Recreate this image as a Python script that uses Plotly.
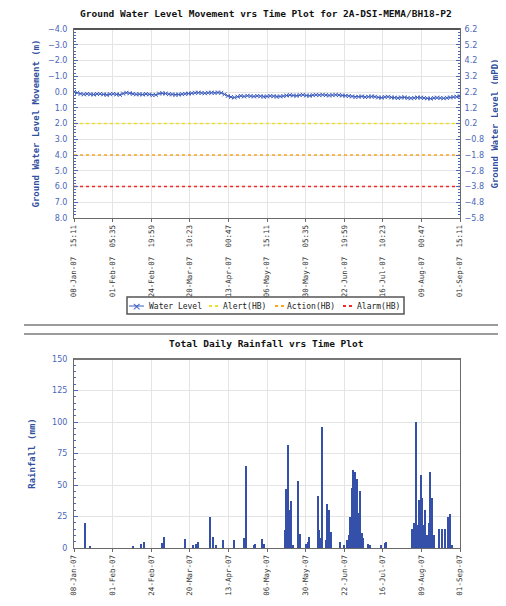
import pandas as pd
import plotly.graph_objects as go

# ---------------- data ----------------
level_start = "2007-01-08 15:11"
water_level = [
    0.00, 0.05, 0.12, 0.15, 0.12, 0.14, 0.16, 0.13, 0.12, 0.15, 0.18, 0.14,
    0.12, 0.15, 0.18, 0.10, 0.05, 0.08, 0.12, 0.15, 0.14, 0.16, 0.13, 0.15, 0.20, 0.18,
    0.10, 0.08, 0.10, 0.14, 0.15, 0.18, 0.16, 0.14, 0.12, 0.10, 0.08, 0.05, 0.04, 0.06, 0.08, 0.05,
    0.04, 0.06, 0.03, 0.05, 0.15, 0.25, 0.32, 0.35, 0.30, 0.25, 0.28, 0.24, 0.26, 0.28, 0.25,
    0.27, 0.30, 0.28, 0.25, 0.27, 0.30, 0.28, 0.26, 0.22, 0.20, 0.22, 0.24, 0.20, 0.18, 0.22,
    0.24, 0.20, 0.18, 0.20, 0.18, 0.20, 0.22, 0.20, 0.18, 0.20, 0.22, 0.24, 0.26, 0.28, 0.32,
    0.30, 0.28, 0.32, 0.30, 0.28, 0.30, 0.34, 0.36, 0.32, 0.30, 0.34, 0.36, 0.38, 0.35, 0.34, 0.38,
    0.40, 0.38, 0.35, 0.36, 0.38, 0.40, 0.42, 0.38, 0.36, 0.38, 0.40, 0.37, 0.35, 0.32, 0.30,
    0.28,
]
alert_level = 2.0
action_level = 4.0
alarm_level = 6.0
mpd_offset = 2.2

rain_dates = [
    "2007-01-15", "2007-01-18", "2007-02-13", "2007-02-18", "2007-02-20",
    "2007-03-03", "2007-03-04", "2007-03-17", "2007-03-22", "2007-03-24", "2007-03-25",
    "2007-04-01", "2007-04-03", "2007-04-05", "2007-04-09", "2007-04-16", "2007-04-22",
    "2007-04-23", "2007-04-28", "2007-04-29", "2007-05-03", "2007-05-04",
    "2007-05-17", "2007-05-18", "2007-05-19", "2007-05-20", "2007-05-21", "2007-05-22",
    "2007-05-25", "2007-05-26", "2007-05-30", "2007-05-31", "2007-06-01",
    "2007-06-06", "2007-06-07", "2007-06-08", "2007-06-09", "2007-06-11", "2007-06-12",
    "2007-06-13", "2007-06-14", "2007-06-20", "2007-06-22", "2007-06-24",
    "2007-06-25", "2007-06-26", "2007-06-27", "2007-06-28", "2007-06-29", "2007-06-30",
    "2007-07-01", "2007-07-02", "2007-07-03", "2007-07-04", "2007-07-07", "2007-07-08",
    "2007-07-15", "2007-07-17", "2007-07-18",
    "2007-08-03", "2007-08-04", "2007-08-05", "2007-08-06", "2007-08-07", "2007-08-08",
    "2007-08-09", "2007-08-10", "2007-08-11", "2007-08-12", "2007-08-13", "2007-08-14",
    "2007-08-15", "2007-08-16", "2007-08-19", "2007-08-21", "2007-08-23",
    "2007-08-25", "2007-08-26", "2007-08-27",
]
rain_mm = [
    20, 1, 1, 3, 5,
    4, 9, 7, 2, 3, 5,
    25, 9, 2, 6, 6, 8,
    65, 2, 3, 7, 3,
    14, 47, 82, 30, 37, 2,
    53, 11, 3, 5, 9,
    41, 14, 8, 96, 6, 35,
    30, 13, 5, 2, 6,
    10, 25, 48, 62, 60, 55,
    28, 45, 12, 8, 3, 2,
    2, 4, 5,
    15, 20, 100, 18, 38, 58,
    40, 18, 30, 10, 20, 60,
    40, 10, 15, 15, 15,
    25, 27, 2,
]

x_start = "2007-01-08 15:11"
x_end = "2007-09-01 15:11"
tick_labels_top = ["08-Jan-07  15:11", "01-Feb-07  05:35", "24-Feb-07  19:59",
                   "20-Mar-07  10:23", "13-Apr-07  00:47", "06-May-07  15:11",
                   "30-May-07  05:35", "22-Jun-07  19:59", "16-Jul-07  10:23",
                   "09-Aug-07  00:47", "01-Sep-07  15:11"]
tick_labels_bottom = [t.split("  ")[0] for t in tick_labels_top]
legend_names = ["Water Level", "Alert(HB)", "Action(HB)", "Alarm(HB)"]

# ---------------- build ----------------
level_dates = pd.date_range(level_start, periods=len(water_level), freq="2D")
tickvals = pd.date_range(x_start, x_end, periods=len(tick_labels_top))
tickvals_b = pd.date_range("2007-01-08", "2007-09-01", periods=len(tick_labels_bottom))

W, H = 506, 606
OFF = 8  # page body margin of the html page
def py(pix):
    return 1 - (pix - OFF) / H
def px(pix):
    return (pix - OFF) / W

x0p, x1p = px(74), px(460)
mono = "DejaVu Sans Mono"
sans = "DejaVu Sans"
blue_tick = "#4a66b8"
blue_title = "#2f4f9f"
grid = "#e4e4e4"
line_c = "#6a6a6a"
wl_col = "#3f5fbf"
ref_cols = ["#f0e020", "#f5a623", "#ee2a2a"]

fig = go.Figure()

fig.add_trace(go.Scatter(
    x=level_dates, y=water_level, mode="lines+markers", name=legend_names[0],
    line=dict(color=wl_col, width=1),
    marker=dict(symbol="x-thin", size=4, line=dict(color=wl_col, width=1)),
    xaxis="x", yaxis="y", showlegend=False))
for name, lvl, col in zip(legend_names[1:], [alert_level, action_level, alarm_level], ref_cols):
    fig.add_trace(go.Scatter(
        x=[x_start, x_end], y=[lvl, lvl], mode="lines", name=name,
        line=dict(color=col, width=1.3, dash="dot"), xaxis="x", yaxis="y", showlegend=False))

fig.add_trace(go.Scatter(
    x=level_dates, y=[mpd_offset - v for v in water_level], mode="lines",
    line=dict(width=0), opacity=0, showlegend=False, hoverinfo="skip",
    xaxis="x", yaxis="y3"))

fig.add_trace(go.Bar(
    x=pd.to_datetime(rain_dates), y=rain_mm, marker=dict(color="#3450a8", line=dict(width=0)),
    width=86400000 * 0.85, showlegend=False, xaxis="x2", yaxis="y2"))

common_x = dict(type="date", showgrid=True, gridcolor=grid, showline=True, linecolor=line_c,
                mirror=True, ticks="outside", ticklen=3, tickcolor=line_c, tickangle=-90,
                tickfont=dict(family=mono, size=7.5, color="#333333"), zeroline=False,
                automargin=False)

fig.update_layout(
    width=W, height=H, autosize=False,
    margin=dict(l=0, r=0, t=0, b=0, pad=0),
    paper_bgcolor="white", plot_bgcolor="white",
    showlegend=False,
    xaxis=dict(domain=[x0p, x1p], range=[x_start, x_end], anchor="y",
               tickvals=tickvals, ticktext=tick_labels_top, **common_x),
    yaxis=dict(domain=[py(218), py(29)], range=[8, -4], anchor="x", automargin=False,
               dtick=1, tick0=0, tickformat=".1f", showgrid=True, gridcolor=grid,
               showline=True, linecolor=line_c, zeroline=False,
               ticks="inside", ticklen=4, tickcolor=blue_tick, ticklabelstandoff=4,
               minor=dict(ticks="inside", ticklen=2, dtick=0.2, tickcolor=blue_tick, showgrid=False),
               tickfont=dict(family=sans, size=8, color=blue_tick),
               title=dict(text="Ground Water Level Movement (m)", standoff=6,
                          font=dict(family=mono, size=9, color=blue_title, weight="bold"))),
    yaxis3=dict(overlaying="y", side="right", anchor="x", range=[-5.8, 6.2], automargin=False,
                dtick=1, tick0=0.2, tickformat=".1f", showgrid=False, zeroline=False,
                showline=True, linecolor=line_c,
                ticks="inside", ticklen=4, tickcolor=blue_tick, ticklabelstandoff=2,
                minor=dict(ticks="inside", ticklen=2, dtick=0.2, tickcolor=blue_tick),
                tickfont=dict(family=sans, size=8, color=blue_tick),
                title=dict(text="Ground Water Level (mPD)", standoff=8,
                           font=dict(family=mono, size=9, color=blue_title, weight="bold"))),
    xaxis2=dict(domain=[x0p, x1p], range=["2007-01-08", "2007-09-01"], anchor="y2",
                tickvals=tickvals_b, ticktext=tick_labels_bottom, **common_x),
    yaxis2=dict(domain=[py(548), py(359)], range=[0, 150], anchor="x2", automargin=False,
                dtick=25, showgrid=True, gridcolor=grid, zeroline=False,
                showline=True, linecolor=line_c, mirror=True,
                ticks="inside", ticklen=4, tickcolor=blue_tick, ticklabelstandoff=4,
                minor=dict(ticks="inside", ticklen=2, dtick=5, tickcolor=blue_tick, showgrid=False),
                tickfont=dict(family=sans, size=8, color=blue_tick),
                title=dict(text="Rainfall (mm)", standoff=14,
                           font=dict(family=mono, size=9, color=blue_title, weight="bold"))),
    bargap=0,
)

# separators and frame accents
for yy in [3.5, 325, 334]:
    fig.add_shape(type="line", xref="paper", yref="paper", x0=px(24), x1=1, y0=py(yy), y1=py(yy),
                  line=dict(color="#7a7a7a", width=1.5))
fig.add_shape(type="line", xref="paper", yref="paper", x0=x0p, x1=x1p, y0=py(29), y1=py(29),
              line=dict(color="#555555", width=2))
fig.add_shape(type="line", xref="paper", yref="paper", x0=x0p, x1=x1p, y0=py(359), y1=py(359),
              line=dict(color="#777777", width=2))

# custom compact legend
fig.add_shape(type="rect", xref="paper", yref="paper", x0=px(127), x1=px(404),
              y0=py(314), y1=py(297), line=dict(color="#555555", width=1.5), fillcolor="white")
ly = py(306)
fig.add_shape(type="line", xref="paper", yref="paper", x0=px(129), x1=px(144), y0=ly, y1=ly,
              line=dict(color=wl_col, width=1))
fig.add_annotation(text="×", xref="paper", yref="paper", x=px(136.5), y=ly, showarrow=False,
                   xanchor="center", yanchor="middle",
                   font=dict(family=sans, size=11, color=wl_col))
sym_x = [209, 275, 343]
for sx, col in zip(sym_x, ref_cols):
    fig.add_shape(type="line", xref="paper", yref="paper", x0=px(sx), x1=px(sx + 9), y0=ly, y1=ly,
                  line=dict(color=col, width=2, dash="dot"))
text_x = [147, 221, 285, 355]
for tx, name in zip(text_x, legend_names):
    fig.add_annotation(text=name, xref="paper", yref="paper", x=px(tx), y=ly, showarrow=False,
                       xanchor="left", yanchor="middle",
                       font=dict(family=mono, size=8, color="#222222"))

fig.add_annotation(text="Ground Water Level Movement vrs Time Plot for 2A-DSI-MEMA/BH18-P2",
                   xref="paper", yref="paper", x=px(266), y=py(13), showarrow=False,
                   xanchor="center", yanchor="middle",
                   font=dict(family=mono, size=9.5, color="#111111", weight="bold"))
fig.add_annotation(text="Total Daily Rainfall vrs Time Plot",
                   xref="paper", yref="paper", x=px(266), y=py(343), showarrow=False,
                   xanchor="center", yanchor="middle",
                   font=dict(family=mono, size=9.5, color="#111111", weight="bold"))

fig.write_html("out.html")
